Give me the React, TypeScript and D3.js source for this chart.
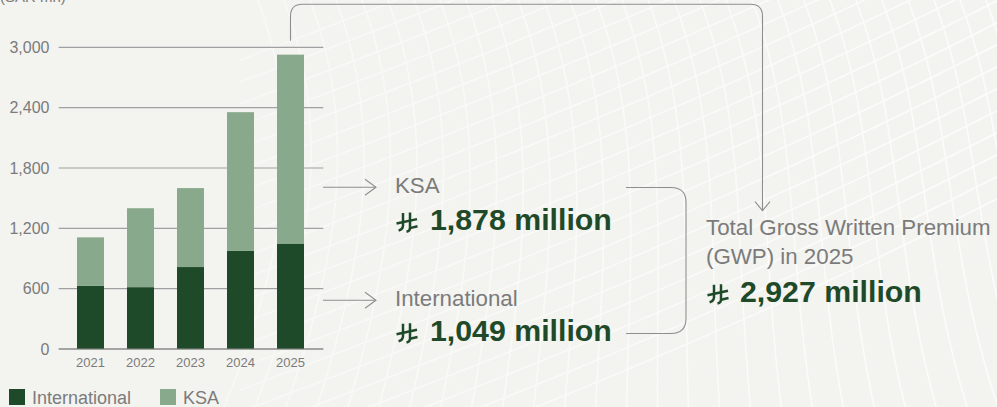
import React from 'react';
import * as d3 from 'd3';

const years = ['2021', '2022', '2023', '2024', '2025'];
const international = [630, 615, 815, 975, 1049];
const ksa = [480, 785, 785, 1380, 1878];
const yTicks = [0, 600, 1200, 1800, 2400, 3000];
const seriesNames = ['International', 'KSA'];
const calloutLabels = ['KSA', 'International'];
const calloutValues = ['1,878 million', '1,049 million'];
const totalLines = ['Total Gross Written Premium', '(GWP) in 2025'];
const totalValue = '2,927 million';
const unitLabel = '(SAR mn)';

const W = 997;
const H = 407;
const DARK = '#1f4a29';
const LIGHT = '#89a98d';
const GRAY_TEXT = '#7b7b7b';
const LINE = '#8e8e8e';
const FONT = '"Liberation Sans", Arial, Helvetica, sans-serif';

function Riyal({ x, baseline, scale = 1 }: { x: number; baseline: number; scale?: number }) {
  return (
    <g transform={`translate(${x},${baseline - 17.5 * scale}) scale(${scale})`} stroke={DARK} fill="none" strokeWidth={2.5} strokeLinecap="butt">
      <path d="M7,0.5 V13 C7,15.8 5.4,17.2 2.6,18" />
      <path d="M14,0 V15.5 C14,17.8 12.8,18.8 10.5,19.3" />
      <path d="M0.5,11 L21,6.6" />
      <path d="M14,15.6 L21.5,13.8" />
    </g>
  );
}

export default function App() {
  React.useEffect(() => {
    document.body.style.margin = '0';
  }, []);

  const x = d3.scaleBand<string>().domain(years).range([65.5, 315.5]).paddingInner(0.46).paddingOuter(0.23);
  const y = d3.scaleLinear().domain([0, 3000]).range([349, 47.3]);
  const gridX0 = 58.7;
  const gridX1 = 323.3;

  const stackData = years.map((yr, i) => ({ year: yr, International: international[i], KSA: ksa[i] }));
  const stacked = d3.stack<any>().keys(seriesNames)(stackData as any);
  const colors: Record<string, string> = { International: DARK, KSA: LIGHT };

  // background mesh pattern (decorative)
  const famA = d3.range(0, 34).map((i) => {
    const sx = 250 + i * 26;
    return `M${sx},-20 C${sx + 60},120 ${sx + 40},260 ${sx - 40 + i * 6},440`;
  });
  const famB = d3.range(0, 22).map((i) => {
    const sy = 60 + i * 22;
    return `M240,${sy} C480,${sy - 90} 760,${sy - 200} 1010,${sy - 330}`;
  });

  // connectors
  const topX0 = (x('2025') as number) + x.bandwidth() / 2;
  const topY0 = y(3000) - 6.5;
  const topY = 4.3;
  const topX1 = 762.5;
  const r = 12;
  const arrowTipY = 210.7;
  const topPath = `M${topX0},${topY0} V${topY + r} Q${topX0},${topY} ${topX0 + r},${topY} H${topX1 - r} Q${topX1},${topY} ${topX1},${topY + r} V${arrowTipY}`;

  const calloutArrowY = [187.3, 300.3];
  const arrowX0 = 323;
  const arrowX1 = 376;

  const brTop = 187.5;
  const brBot = 333.5;
  const brX0 = 626;
  const brX1 = 686;
  const br = 15;
  const bracketPath = `M${brX0},${brTop} H${brX1 - br} Q${brX1},${brTop} ${brX1},${brTop + br} V${brBot - br} Q${brX1},${brBot} ${brX1 - br},${brBot} H${brX0}`;

  const labelBaselines = [193.3, 305.7];
  const valueBaselines = [230, 340.7];

  return (
    <svg width={W} height={H} viewBox={`0 0 ${W} ${H}`} style={{ position: 'absolute', left: 0, top: 0, display: 'block' }} fontFamily={FONT}>
      <defs>
        <linearGradient id="fade" x1="0" y1="0" x2="1" y2="0">
          <stop offset="0" stopColor="#fff" stopOpacity="0.2" />
          <stop offset="0.35" stopColor="#fff" stopOpacity="0.55" />
          <stop offset="1" stopColor="#fff" stopOpacity="0.85" />
        </linearGradient>
        <mask id="m">
          <rect x={0} y={0} width={W} height={H} fill="url(#fade)" />
        </mask>
      </defs>
      <rect x={0} y={0} width={W} height={H} fill="#f3f3f0" />
      <g mask="url(#m)" stroke="#ffffff" fill="none" strokeWidth={1.6} opacity={0.85}>
        {famA.map((d, i) => <path key={'a' + i} d={d} />)}
        {famB.map((d, i) => <path key={'b' + i} d={d} />)}
      </g>

      {/* unit label (cut at top, as in the reference) */}
      <text x={0} y={1.5} fontSize={15} fill={GRAY_TEXT}>{unitLabel}</text>

      {/* gridlines */}
      {yTicks.map((t) => (
        <line key={t} x1={gridX0} x2={gridX1} y1={y(t)} y2={y(t)} stroke={t === 0 ? '#8a8a8a' : '#a0a0a0'} strokeWidth={1.2} />
      ))}
      {yTicks.map((t) => (
        <text key={'l' + t} x={49.5} y={y(t)} dy="0.36em" textAnchor="end" fontSize={16} fill={GRAY_TEXT}>
          {d3.format(',')(t)}
        </text>
      ))}

      {/* bars */}
      {stacked.map((s) => (
        <g key={s.key} fill={colors[s.key]}>
          {s.map((d: any, i: number) => (
            <rect key={i} x={x(years[i])} width={x.bandwidth()} y={y(d[1])} height={y(d[0]) - y(d[1])} />
          ))}
        </g>
      ))}
      <line x1={gridX0} x2={gridX1} y1={y(0)} y2={y(0)} stroke="#8a8a8a" strokeWidth={1.2} />

      {years.map((yr) => (
        <text key={yr} x={(x(yr) as number) + x.bandwidth() / 2} y={367} textAnchor="middle" fontSize={13} fill={GRAY_TEXT}>
          {yr}
        </text>
      ))}

      {/* legend */}
      <rect x={9} y={389} width={16} height={16} fill={DARK} />
      <text x={32} y={403.7} fontSize={18} fill={GRAY_TEXT}>{seriesNames[0]}</text>
      <rect x={160} y={389} width={16} height={16} fill={LIGHT} />
      <text x={183} y={403.7} fontSize={18} fill={GRAY_TEXT}>{seriesNames[1]}</text>

      {/* connectors */}
      <g stroke={LINE} fill="none" strokeWidth={1.1}>
        <path d={topPath} />
        <path d={`M${topX1 - 7.5},${arrowTipY - 9} L${topX1},${arrowTipY} L${topX1 + 7.5},${arrowTipY - 9}`} />
        {calloutArrowY.map((ay, i) => (
          <g key={i}>
            <line x1={arrowX0} x2={arrowX1} y1={ay} y2={ay} />
            <path d={`M${arrowX1 - 11},${ay - 8} L${arrowX1},${ay} L${arrowX1 - 11},${ay + 8}`} />
          </g>
        ))}
        <path d={bracketPath} />
      </g>

      {/* callouts */}
      {calloutLabels.map((lab, i) => (
        <g key={lab}>
          <text x={395} y={labelBaselines[i]} fontSize={22.3} fill={GRAY_TEXT}>{lab}</text>
          <Riyal x={396} baseline={valueBaselines[i]} />
          <text x={430} y={valueBaselines[i]} fontSize={30.3} fontWeight="bold" fill={DARK}>{calloutValues[i]}</text>
        </g>
      ))}

      {/* total */}
      <text x={706} y={235} fontSize={22.3} fill={GRAY_TEXT}>{totalLines[0]}</text>
      <text x={706} y={264} fontSize={22.3} fill={GRAY_TEXT}>{totalLines[1]}</text>
      <Riyal x={707} baseline={301.7} />
      <text x={740} y={301.7} fontSize={30.3} fontWeight="bold" fill={DARK}>{totalValue}</text>
    </svg>
  );
}
